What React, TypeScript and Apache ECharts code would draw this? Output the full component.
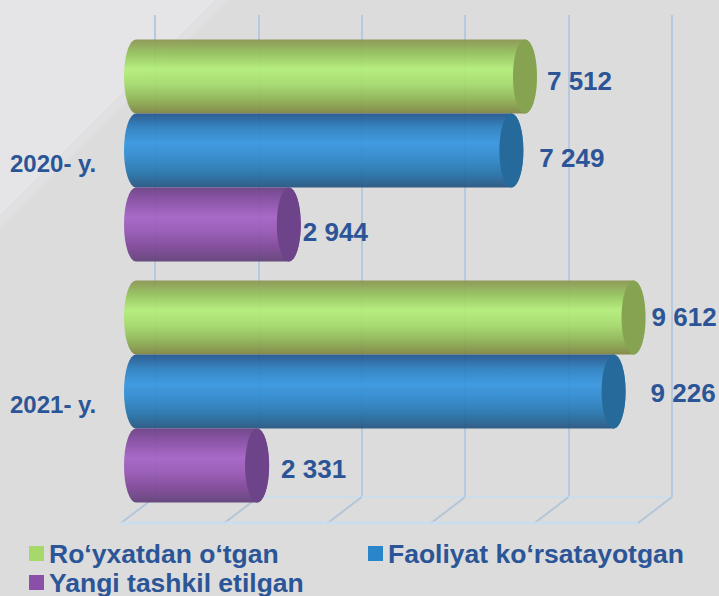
import React, { useEffect, useRef } from "react";
import * as echarts from "echarts";

const categories = ["2020- y.", "2021- y."];
const registered = [7512, 9612];
const active = [7249, 9226];
const created = [2944, 2331];
const seriesNames = ["Ro‘yxatdan o‘tgan", "Faoliyat ko‘rsatayotgan", "Yangi tashkil etilgan"];
const axisTicks = [0, 2000, 4000, 6000, 8000, 10000];

const TEXT = "#2b5597";
const FONT = "Liberation Sans, Arial, sans-serif";
const grad = (stops: string[]) => ({
  type: "linear", x: 0, y: 0, x2: 0, y2: 1,
  colorStops: stops.map((color, i) => ({ offset: i / (stops.length - 1), color })),
});
const looks = [
  { legend: "#a6d96a", cap: "#86a352", body: grad(["#8a9450", "#95c55c", "#b3ef78", "#a5dc6c", "#8fb655", "#7f8440"]) },
  { legend: "#2a86c8", cap: "#266a9c", body: grad(["#22548c", "#2a80c2", "#3596e0", "#2d88cc", "#2474ac", "#265480"]) },
  { legend: "#8a4fa8", cap: "#6d4489", body: grad(["#6b3d85", "#8a4ea8", "#a362c6", "#9556b4", "#7f4598", "#5f3f78"]) },
];
// label placement relative to the bar tip: [gap, dy], per measure then per year
const labelNudge = [
  [[10, 4], [6, -1]],
  [[16, 7], [25, 1]],
  [[2, 7], [12, 3]],
];

function cylinder(seriesIdx: number) {
  return (params: any, api: any) => {
    const value = api.value(0);
    const cat = api.value(1);
    const catIdx = params.dataIndex;
    const [vx, cy0] = api.coord([value, cat]);
    const [zeroX] = api.coord([0, cat]);
    const band = api.size([0, 1])[1];
    const h = (band * 74) / 241;
    const cy = cy0 + (seriesIdx - 1) * h;
    const top = cy - h / 2;
    const tip = vx - 6.4;
    const left = zeroX - 31;
    const rx = 12;
    const ry = h / 2;
    const w = tip - left;
    const look = looks[seriesIdx];
    const [gap, dy] = labelNudge[seriesIdx][catIdx];
    const d =
      `M${rx} 0L${w - rx} 0A${rx} ${ry} 0 0 1 ${w - rx} ${h}` +
      `L${rx} ${h}A${rx} ${ry} 0 0 1 ${rx} 0Z`;
    return {
      type: "group",
      children: [
        {
          type: "path",
          shape: { pathData: d, x: left, y: top, width: w, height: h, layout: "cover" },
          style: { fill: look.body, opacity: 0.93 },
        },
        { type: "ellipse", shape: { cx: tip - rx, cy, rx, ry }, style: { fill: look.cap } },
        {
          type: "text",
          x: tip + gap,
          y: cy + dy,
          style: {
            text: String(value).replace(/\B(?=(\d{3})+$)/g, " "),
            fill: TEXT,
            font: `bold 26px ${FONT}`,
            textAlign: "left",
            textVerticalAlign: "middle",
          },
        },
      ],
    };
  };
}

function floor(params: any, api: any) {
  const v = api.value(0);
  const [x, y] = api.coord([v, 0]);
  const children: any[] = [
    { type: "line", shape: { x1: x, y1: y, x2: x - 34, y2: y + 26 }, style: { stroke: "rgba(165,190,215,0.75)", lineWidth: 2 } },
  ];
  const next = axisTicks[params.dataIndex + 1];
  if (next !== undefined) {
    const [nx] = api.coord([next, 0]);
    children.push(
      { type: "line", shape: { x1: x, y1: y, x2: nx, y2: y }, style: { stroke: "rgba(200,222,240,0.8)", lineWidth: 2 } },
      { type: "line", shape: { x1: x - 34, y1: y + 26, x2: nx - 34, y2: y + 26 }, style: { stroke: "rgba(200,222,240,0.9)", lineWidth: 3 } },
    );
  }
  return { type: "group", children };
}

export default function App() {
  const ref = useRef<HTMLDivElement>(null);
  useEffect(() => {
    document.body.style.margin = "0";
    const chart = echarts.init(ref.current!, undefined, { renderer: "svg" });
    const values = [registered, active, created];
    chart.setOption({
      animation: false,
      backgroundColor: "#dcdcdc",
      textStyle: { fontFamily: FONT },
      graphic: [
        { type: "polygon", z: -1, shape: { points: [[215, 0], [228, 0], [0, 228], [0, 215]] }, style: { fill: "#e0e0e2" } },
        { type: "polygon", z: -1, shape: { points: [[0, 0], [215, 0], [0, 215]] }, style: { fill: "#e5e5e8" } },
      ],
      grid: [
        { left: 155, width: 517, top: 15, height: 482 },
        { left: 155, width: 517, top: 30, height: 482 },
      ],
      xAxis: [
        {
          type: "value", gridIndex: 0, min: 0, max: 10000, interval: 2000,
          axisLabel: { show: false }, axisLine: { show: false }, axisTick: { show: false },
          splitLine: { show: true, lineStyle: { color: "#b5c9df", width: 2 } },
        },
        {
          type: "value", gridIndex: 1, min: 0, max: 10000, interval: 2000,
          axisLabel: { show: false }, axisLine: { show: false }, axisTick: { show: false }, splitLine: { show: false },
        },
      ],
      yAxis: [
        { type: "value", gridIndex: 0, min: 0, max: 1, show: false },
        {
          type: "category", gridIndex: 1, inverse: true, data: categories,
          axisLine: { show: false }, axisTick: { show: false },
          axisLabel: {
            align: "left", margin: 145, color: TEXT, fontWeight: "bold", fontSize: 24, fontFamily: FONT,
            verticalAlign: "top", lineHeight: 25,
          },
        },
      ],
      legend: [
        { left: 24, top: 535, data: [seriesNames[0]] },
        { left: 363, top: 535, data: [seriesNames[1]] },
        { left: 24, top: 564, data: [seriesNames[2]] },
      ].map((l) => ({
        ...l,
        icon: "rect", itemWidth: 15, itemHeight: 15, selectedMode: false,
        textStyle: { color: TEXT, fontWeight: "bold", fontSize: 26.5, fontFamily: FONT },
      })),
      series: [
        {
          type: "custom", xAxisIndex: 0, yAxisIndex: 0, z: 1, silent: true,
          data: axisTicks.map((t) => [t]), renderItem: floor, encode: { x: 0 },
        },
        ...seriesNames.map((name, i) => ({
          type: "custom", name, xAxisIndex: 1, yAxisIndex: 1, z: 2 + i,
          itemStyle: { color: looks[i].legend },
          data: values[i].map((v, c) => [v, c]),
          encode: { x: 0, y: 1 },
          renderItem: cylinder(i),
        })),
      ],
    });
    return () => chart.dispose();
  }, []);
  return <div ref={ref} style={{ width: 719, height: 596 }} />;
}
